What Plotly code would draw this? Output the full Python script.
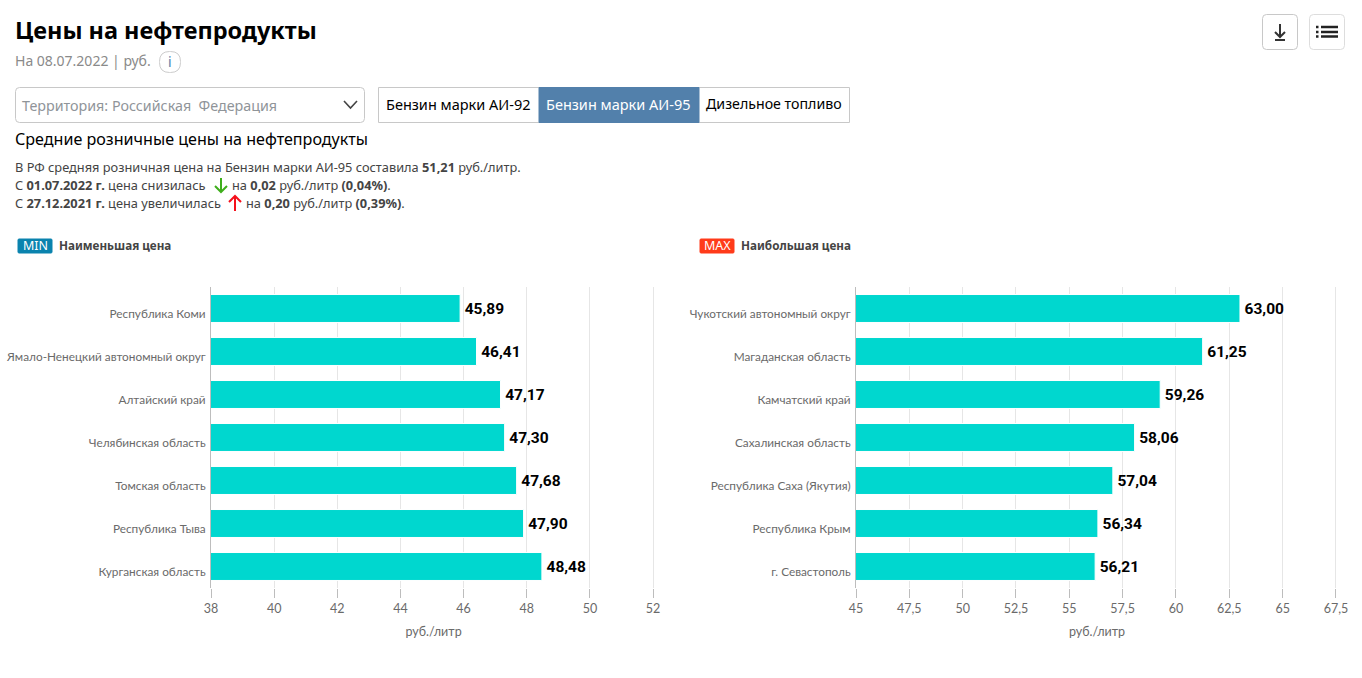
#!/usr/bin/env python3

import plotly.graph_objects as go

WIDTH = 1362
HEIGHT = 678

min_regions = [
    "Республика Коми",
    "Ямало-Ненецкий автономный округ",
    "Алтайский край",
    "Челябинская область",
    "Томская область",
    "Республика Тыва",
    "Курганская область",
]
min_prices = [45.89, 46.41, 47.17, 47.30, 47.68, 47.90, 48.48]

max_regions = [
    "Чукотский автономный округ",
    "Магаданская область",
    "Камчатский край",
    "Сахалинская область",
    "Республика Саха (Якутия)",
    "Республика Крым",
    "г. Севастополь",
]
max_prices = [63.00, 61.25, 59.26, 58.06, 57.04, 56.34, 56.21]

fuel_buttons = ["Бензин марки АИ-92", "Бензин марки АИ-95", "Дизельное топливо"]

SANS = "Noto Sans"
NARROW = "Lato"
BAR_COLOR = "#00d7cf"
GRID = "#e6e6e6"
AXIS = "#bdbdbd"
TICK_TEXT = "#6a6a6a"


def px(x):
    return x / WIDTH


def py(y):
    return 1 - y / HEIGHT


def rounded(x0, y0, x1, y1, r):
    return (
        f"M{px(x0 + r)},{py(y0)} L{px(x1 - r)},{py(y0)} Q{px(x1)},{py(y0)} {px(x1)},{py(y0 + r)} "
        f"L{px(x1)},{py(y1 - r)} Q{px(x1)},{py(y1)} {px(x1 - r)},{py(y1)} "
        f"L{px(x0 + r)},{py(y1)} Q{px(x0)},{py(y1)} {px(x0)},{py(y1 - r)} "
        f"L{px(x0)},{py(y0 + r)} Q{px(x0)},{py(y0)} {px(x0 + r)},{py(y0)} Z"
    )


def polyline(points):
    return "M" + " L".join(f"{px(x)},{py(y)}" for x, y in points)


shapes = []
annotations = []


def box(x0, y0, x1, y1, r=0, line="#c8c8c8", fill="white", width=1):
    shapes.append(
        dict(
            type="path",
            xref="paper",
            yref="paper",
            path=rounded(x0, y0, x1, y1, r),
            line=dict(color=line, width=width),
            fillcolor=fill,
            layer="below",
        )
    )


def stroke(points, color, width=2):
    shapes.append(
        dict(
            type="path",
            xref="paper",
            yref="paper",
            path=polyline(points),
            line=dict(color=color, width=width),
        )
    )


def label(x, y, text, size, color="#444444", anchor="left", family=SANS):
    annotations.append(
        dict(
            xref="paper",
            yref="paper",
            x=px(x),
            y=py(y),
            text=text,
            showarrow=False,
            xanchor=anchor,
            yanchor="middle",
            align=anchor,
            borderpad=0,
            font=dict(family=family, size=size, color=color),
        )
    )


# header
label(14, 30, "<b>Цены на нефтепродукты</b>", 23.5, "#000000")
label(14, 61, "На 08.07.2022 | руб.", 14, "#8a8a8a")
box(159.5, 51.5, 180.5, 72.5, 10, line="#cccccc")
label(170, 62, "i", 14, "#5280ab", "center")

# territory selector
box(15.5, 87.5, 364.5, 122.5, 4)
label(21, 105, "Территория: Российская  Федерация", 14.3, "#8f9499")
stroke([(344, 101), (350.5, 108), (357, 101)], "#444444", 1.6)

# fuel buttons
box(378.5, 87.5, 849.5, 122.5)
box(539, 87.5, 699, 122.5, line="#5280ab", fill="#5280ab")
label(458, 104, fuel_buttons[0], 14.5, "#000000", "center")
label(618.5, 104, fuel_buttons[1], 14.5, "#ffffff", "center")
label(774, 104, fuel_buttons[2], 14.2, "#000000", "center")

# top right icons
box(1262.5, 14.5, 1297.5, 49.5, 4)
box(1309.5, 14.5, 1344.5, 49.5, 4, line="#dddddd")
stroke([(1280, 24), (1280, 37)], "#333333")
stroke([(1275, 32), (1280, 37), (1285, 32)], "#333333")
stroke([(1275, 40), (1285, 40)], "#333333")
for y in (27, 32, 36.5):
    stroke([(1316, y), (1318.5, y)], "#222222", 2.5)
    stroke([(1321, y), (1338, y)], "#222222", 2.5)

# summary text
label(14, 139, "Средние розничные цены на нефтепродукты", 16.1, "#000000")
label(
    14,
    167,
    "В РФ средняя розничная цена на Бензин марки АИ-95 составила <b>51,21</b> руб./литр.",
    12.8,
)
label(14, 185, "С <b>01.07.2022 г.</b> цена снизилась", 12.8)
label(231, 185, "на <b>0,02</b> руб./литр <b>(0,04%)</b>.", 12.8)
label(14, 203, "С <b>27.12.2021 г.</b> цена увеличилась", 12.8)
label(245, 203, "на <b>0,20</b> руб./литр <b>(0,39%)</b>.", 12.8)
stroke([(221, 178), (221, 192)], "#3fae1c", 2)
stroke([(215, 186), (221, 192), (227, 186)], "#3fae1c", 2)
stroke([(235, 196), (235, 211)], "#f5101c", 2)
stroke([(229, 202), (235, 196), (241, 202)], "#f5101c", 2)

# min / max badges
box(18, 239, 52, 253, 1, line="#0a83ae", fill="#0a83ae")
label(35, 245.5, "MIN", 12.5, "#ffffff", "center")
label(58, 245, "<b>Наименьшая цена</b>", 11.7)
box(700, 239, 734, 253, 1, line="#ff3b1a", fill="#ff3b1a")
label(717, 245.5, "MAX", 12.5, "#ffffff", "center")
label(740, 245, "<b>Наибольшая цена</b>", 11.7)


def bars(regions, prices, xaxis, yaxis):
    return go.Bar(
        y=regions,
        x=prices,
        orientation="h",
        xaxis=xaxis,
        yaxis=yaxis,
        marker=dict(color=BAR_COLOR, line=dict(color="white", width=1)),
        width=0.65,
        texttemplate="\u200a<b>%{x:.2f}</b>",
        textposition="outside",
        textangle=0,
        cliponaxis=False,
        textfont=dict(family="Roboto", size=15.5, color="#000000"),
        hoverinfo="skip",
    )


def x_axis(x0, x1, lo, hi, step, anchor):
    return dict(
        domain=[px(x0), px(x1)],
        anchor=anchor,
        range=[lo, hi],
        tick0=lo,
        dtick=step,
        automargin=False,
        showgrid=True,
        gridcolor=GRID,
        gridwidth=1,
        zeroline=False,
        showline=False,
        ticks="outside",
        ticklen=9,
        tickcolor=AXIS,
        tickfont=dict(family=NARROW, size=12.5, color=TICK_TEXT),
        title=dict(
            text="руб./литр",
            standoff=12,
            font=dict(family=NARROW, size=12.5, color=TICK_TEXT),
        ),
    )


def y_axis(regions, anchor):
    return dict(
        domain=[py(588), py(287)],
        anchor=anchor,
        type="category",
        categoryorder="array",
        categoryarray=regions,
        range=[6.5, -0.5],
        automargin=False,
        showgrid=False,
        zeroline=False,
        showline=True,
        linecolor=AXIS,
        linewidth=1,
        ticks="",
        ticklabelstandoff=2,
        ticklabelshift=-5,
        tickfont=dict(family=NARROW, size=11.8, color=TICK_TEXT),
    )


fig = go.Figure()
fig.add_trace(bars(min_regions, min_prices, "x", "y"))
fig.add_trace(bars(max_regions, max_prices, "x2", "y2"))

fig.update_layout(
    width=WIDTH,
    height=HEIGHT,
    margin=dict(l=0, r=0, t=0, b=0, autoexpand=False),
    paper_bgcolor="white",
    plot_bgcolor="white",
    showlegend=False,
    separators=", ",
    # ranges run slightly past the last tick so its gridline is still drawn
    xaxis=x_axis(211, 656.2, 38, 52.1, 2, "y"),
    yaxis=y_axis(min_regions, "x"),
    xaxis2=x_axis(856, 1338.1, 45, 67.6, 2.5, "y2"),
    yaxis2=y_axis(max_regions, "x2"),
    shapes=shapes,
    annotations=annotations,
)

fig.write_html(
    "out.html",
    config=dict(displayModeBar=False),
    post_script="document.body.style.margin='0';document.body.style.overflow='hidden';",
)
